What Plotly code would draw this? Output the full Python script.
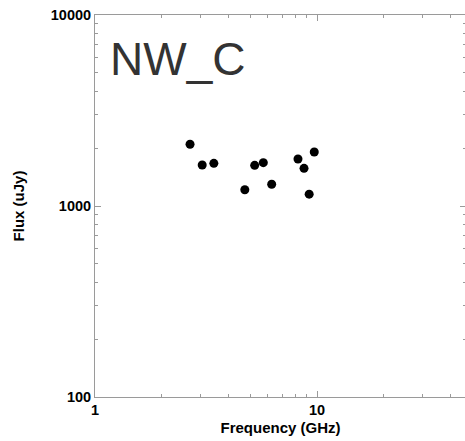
import plotly.graph_objects as go

freq_ghz = [2.68, 3.04, 3.43, 4.73, 5.24, 5.73, 6.25, 8.21, 8.74, 9.22, 9.72]
flux_ujy = [2104, 1640, 1673, 1217, 1633, 1686, 1299, 1762, 1575, 1153, 1918]

x_major = [1, 10]
x_major_text = ["1", "10"]
x_minor = [2, 3, 4, 5, 6, 7, 8, 9, 20, 30, 40]
y_major = [100, 1000, 10000]
y_major_text = ["100", "1000", "10000"]
y_minor = [200, 300, 400, 500, 600, 700, 800, 900, 2000, 3000, 4000, 5000, 6000, 7000, 8000, 9000]
label = "NW_C"

AX = "#9a9a9a"
FONT = "Liberation Sans, Arial, sans-serif"

fig = go.Figure()
fig.add_trace(go.Scatter(
    x=freq_ghz, y=flux_ujy, mode="markers",
    marker=dict(color="black", size=9, line=dict(width=0)),
    showlegend=False,
))

fig.update_layout(
    width=466, height=441,
    margin=dict(l=95, r=0, t=15, b=44, autoexpand=False),
    paper_bgcolor="white", plot_bgcolor="white",
    font=dict(family=FONT, color="black"),
)

fig.update_xaxes(
    type="log", range=[0, 371 / 222], automargin=False,
    showgrid=False, zeroline=False,
    showline=True, linecolor=AX, linewidth=1, mirror="ticks",
    tickmode="array", tickvals=x_major, ticktext=x_major_text,
    ticks="inside", ticklen=6, tickcolor=AX, tickwidth=1,
    tickfont=dict(size=14.5, family=FONT, color="black", weight="bold"),
    minor=dict(tickvals=x_minor, ticks="inside", ticklen=3, tickcolor=AX, tickwidth=1, showgrid=False),
    title=dict(text="Frequency (GHz)", font=dict(size=15, family=FONT, color="black", weight="bold"), standoff=5),
)
fig.update_yaxes(
    type="log", range=[2, 4], automargin=False,
    showgrid=False, zeroline=False,
    showline=True, linecolor=AX, linewidth=1, mirror="ticks",
    tickmode="array", tickvals=y_major, ticktext=y_major_text,
    ticks="inside", ticklen=6, tickcolor=AX, tickwidth=1,
    tickfont=dict(size=14.5, family=FONT, color="black", weight="bold"),
    minor=dict(tickvals=y_minor, ticks="inside", ticklen=3, tickcolor=AX, tickwidth=1, showgrid=False),
    title=dict(text="Flux (uJy)", font=dict(size=15, family=FONT, color="black", weight="bold"), standoff=22),
)

fig.add_annotation(
    text=label, xref="paper", yref="paper",
    x=(108 - 95) / 371, y=(397 - 59) / 382, xanchor="left", yanchor="middle",
    showarrow=False, font=dict(size=46, family=FONT, color="#333333"),
)

fig.write_html(
    "out.html",
    config={"displayModeBar": False},
    post_script="document.body.style.margin='0';document.body.style.overflow='hidden';",
)
